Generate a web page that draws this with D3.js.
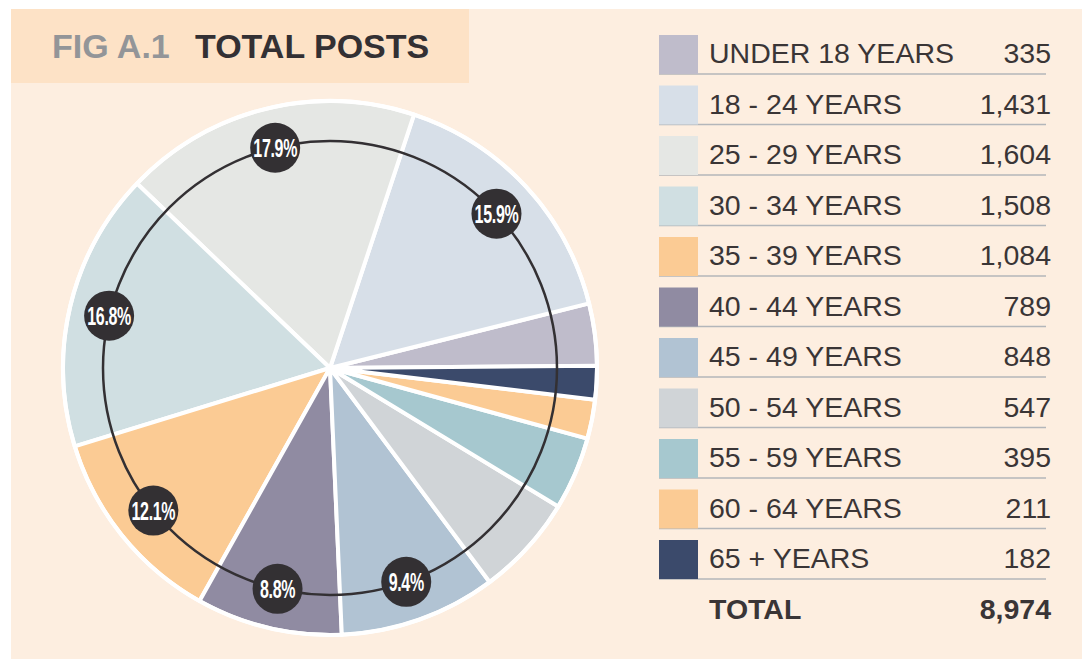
<!DOCTYPE html>
<html>
<head>
<meta charset="utf-8">
<script src="https://cdn.jsdelivr.net/npm/d3@7"></script>
<style>
  html, body { margin: 0; padding: 0; background: #ffffff; }
  svg { display: block; }
</style>
</head>
<body>
<svg id="chart" width="1082" height="659"></svg>
<script>
// Age groups, post counts and swatch colours
const categories = [
  "UNDER 18 YEARS", "18 - 24 YEARS", "25 - 29 YEARS", "30 - 34 YEARS",
  "35 - 39 YEARS", "40 - 44 YEARS", "45 - 49 YEARS", "50 - 54 YEARS",
  "55 - 59 YEARS", "60 - 64 YEARS", "65 + YEARS"
];
const posts = [335, 1431, 1604, 1508, 1084, 789, 848, 547, 395, 211, 182];
const colors = [
  "#bfbccb", "#d7dfe8", "#e5e7e4", "#d0dfe2", "#fbcb94", "#908ba2",
  "#b1c3d3", "#d0d4d7", "#a6c8cf", "#fbcb94", "#3b4a6b"
];
const totalLabel = "TOTAL";
const totalPosts = 8974;
const titlePrefix = "FIG A.1";
const titleText = "TOTAL POSTS";
const labelThreshold = 0.08; // only slices of at least 8% carry a badge

const svg = d3.select("#chart");
const W = 1082, H = 659;
const FONT = "Liberation Sans, Arial, Helvetica, sans-serif";

// panel background
svg.append("rect").attr("x", 11).attr("y", 9).attr("width", W - 11).attr("height", H - 9)
  .attr("fill", "#fdeee0");

// title block
svg.append("rect").attr("x", 11).attr("y", 9).attr("width", 458).attr("height", 74)
  .attr("fill", "#fde2c6");
const title = svg.append("text").attr("y", 58)
  .attr("font-family", FONT).attr("font-weight", "bold").attr("font-size", 34);
title.append("tspan").attr("x", 52).attr("fill", "#939598").text(titlePrefix);
title.append("tspan").attr("x", 195).attr("fill", "#333033").text(titleText);

// pie
const cx = 330, cy = 368, R = 267, ringR = 227;
const deg = Math.PI / 180;
const start = 89.5 * deg; // slices run anticlockwise from 3 o'clock
const data = categories.map((c, i) => ({ name: c, value: posts[i], color: colors[i] }));

const pie = d3.pie().value(d => d.value).sort(null)
  .startAngle(start).endAngle(start - 2 * Math.PI);
const arcs = pie(data);
const arc = d3.arc().innerRadius(0).outerRadius(R);

const g = svg.append("g").attr("transform", `translate(${cx},${cy})`);
g.selectAll("path.slice").data(arcs).join("path")
  .attr("class", "slice")
  .attr("d", arc)
  .attr("fill", d => d.data.color)
  .attr("stroke", "#ffffff").attr("stroke-width", 4).attr("stroke-linejoin", "round");

g.append("circle").attr("r", R).attr("fill", "none")
  .attr("stroke", "#ffffff").attr("stroke-width", 4);

// inner guide ring
g.append("circle").attr("r", ringR).attr("fill", "none")
  .attr("stroke", "#333033").attr("stroke-width", 2.5);

// percentage badges
const fmtPct = v => (Math.round(v / totalPosts * 1000) / 10).toFixed(1) + "%";
const labelArc = d3.arc().innerRadius(ringR).outerRadius(ringR);
const badges = g.selectAll("g.badge")
  .data(arcs.filter(d => d.data.value / totalPosts >= labelThreshold))
  .join("g").attr("class", "badge")
  .attr("transform", d => `translate(${labelArc.centroid(d)})`);
badges.append("circle").attr("r", 25).attr("fill", "#333033");
badges.append("text")
  .attr("transform", "scale(0.64,1)")
  .attr("text-anchor", "middle").attr("y", 9)
  .attr("font-family", FONT)
  .attr("font-weight", "bold").attr("font-size", 25)
  .attr("letter-spacing", -0.5)
  .attr("fill", "#ffffff")
  .text(d => fmtPct(d.data.value));

// legend table
const rowY = d3.scaleLinear().domain([0, 1]).range([35, 85.5]);
const fmt = d3.format(",");
const legend = svg.append("g");
const rows = legend.selectAll("g.row").data(data).join("g").attr("class", "row")
  .attr("transform", (d, i) => `translate(0,${rowY(i)})`);
rows.append("line").attr("x1", 659).attr("x2", 1046).attr("y1", 39).attr("y2", 39)
  .attr("stroke", "#b3b6ba").attr("stroke-width", 1.5);
rows.append("rect").attr("x", 659).attr("y", 0).attr("width", 39).attr("height", 39)
  .attr("fill", d => d.color);
rows.append("text").attr("x", 709).attr("y", 28)
  .attr("font-family", FONT).attr("font-size", 28.5)
  .attr("fill", "#3a3536").text(d => d.name);
rows.append("text").attr("x", 1051).attr("y", 28).attr("text-anchor", "end")
  .attr("font-family", FONT).attr("font-size", 28.5)
  .attr("fill", "#3a3536").text(d => fmt(d.value));

const totalRow = legend.append("g").attr("transform", `translate(0,${rowY(categories.length)})`);
totalRow.append("text").attr("x", 709).attr("y", 28)
  .attr("font-family", FONT).attr("font-size", 28.5)
  .attr("font-weight", "bold").attr("fill", "#3a3536").text(totalLabel);
totalRow.append("text").attr("x", 1051).attr("y", 28).attr("text-anchor", "end")
  .attr("font-family", FONT).attr("font-size", 28.5)
  .attr("font-weight", "bold").attr("fill", "#3a3536").text(fmt(totalPosts));
</script>
</body>
</html>
